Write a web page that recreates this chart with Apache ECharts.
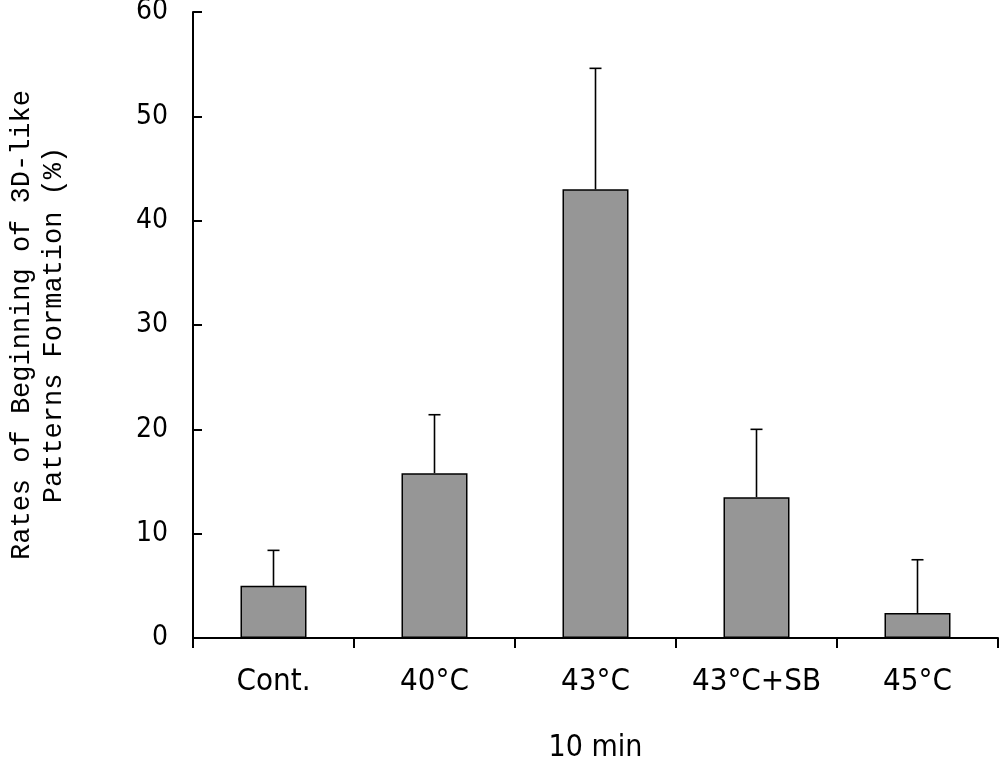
<!DOCTYPE html>
<html>
<head>
<meta charset="utf-8">
<script src="https://cdn.jsdelivr.net/npm/echarts@6/dist/echarts.min.js"></script>
<style>
  html, body { margin: 0; padding: 0; background: #fff; }
  #chart { width: 1000px; height: 762px; }
</style>
</head>
<body>
<div id="chart"></div>
<script>
const categories = ['Cont.', '40°C', '43°C', '43°C+SB', '45°C']
const rates = [5.0, 15.8, 43.0, 13.5, 2.4]
const errorTops = [8.4, 21.4, 54.6, 20.0, 7.5]
const yTicks = [0, 10, 20, 30, 40, 50, 60]

const labelFont = "'DejaVu Sans Condensed', 'Liberation Sans', sans-serif"

const myChart = echarts.init(document.getElementById('chart'))

const errData = categories.map((c, i) => [i, rates[i], errorTops[i]])

const option = {
  animation: false,
  grid: { left: 193, right: 2, top: 12, bottom: 124, outerBoundsMode: 'none', containLabel: false },
  xAxis: {
    type: 'category',
    data: categories,
    name: '10 min',
    nameLocation: 'middle',
    nameGap: 95,
    nameTextStyle: { fontFamily: labelFont, fontSize: 30, color: '#000' },
    axisLine: { lineStyle: { color: '#000', width: 2 } },
    axisTick: { show: true, length: 10, inside: false, lineStyle: { color: '#000', width: 2 } },
    axisLabel: { fontFamily: labelFont, fontSize: 31, color: '#000', margin: 28, interval: 0 }
  },
  yAxis: {
    type: 'value',
    min: yTicks[0],
    max: yTicks[yTicks.length - 1],
    interval: 10,
    name: 'Rates of Beginning of 3D-like\nPatterns Formation (%)',
    nameLocation: 'middle',
    nameRotate: 90,
    nameGap: 123,
    nameTextStyle: { fontFamily: 'Liberation Mono', fontSize: 27, color: '#000', lineHeight: 32 },
    splitLine: { show: false },
    axisLine: { show: true, lineStyle: { color: '#000', width: 2 } },
    axisTick: { show: true, inside: true, length: 9, lineStyle: { color: '#000', width: 2 } },
    axisLabel: { fontFamily: labelFont, fontSize: 28, color: '#000', margin: 25 }
  },
  series: [
    {
      type: 'bar',
      data: rates,
      barWidth: '41%',
      itemStyle: { color: '#969696', borderColor: '#000', borderWidth: 1.5 },
      z: 2
    },
    {
      type: 'custom',
      data: errData,
      z: 3,
      renderItem: function (params, api) {
        const x = api.value(0)
        const lo = api.coord([x, api.value(1)])
        const hi = api.coord([x, api.value(2)])
        const half = 6
        return {
          type: 'group',
          children: [
            {
              type: 'line',
              shape: { x1: lo[0], y1: lo[1], x2: hi[0], y2: hi[1] },
              style: { stroke: '#000', lineWidth: 1.6 }
            },
            {
              type: 'line',
              shape: { x1: hi[0] - half, y1: hi[1], x2: hi[0] + half, y2: hi[1] },
              style: { stroke: '#000', lineWidth: 1.6 }
            }
          ]
        }
      }
    }
  ]
}

myChart.setOption(option)
</script>
</body>
</html>
